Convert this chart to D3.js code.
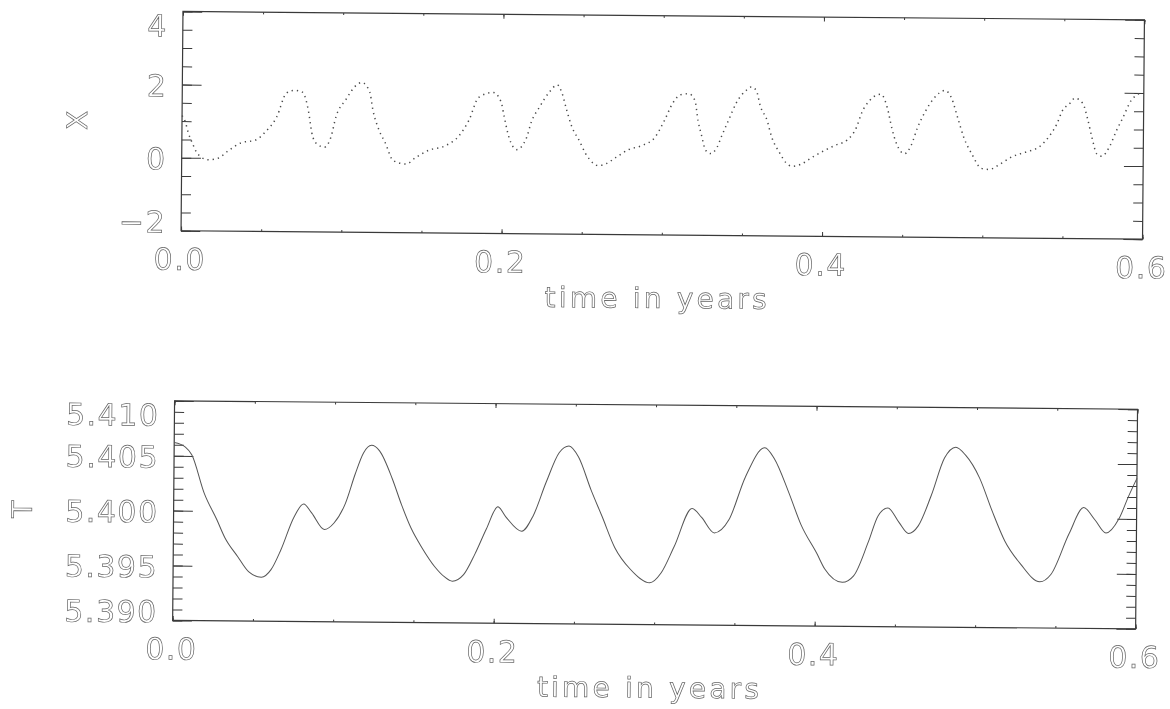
<!DOCTYPE html>
<html>
<head>
<meta charset="utf-8">
<script src="https://cdn.jsdelivr.net/npm/d3@7"></script>
<style>
  html, body { margin: 0; padding: 0; background: #fff; }
  svg { display: block; filter: grayscale(100%); }
</style>
</head>
<body>
<div id="chart"></div>
<script>
// top panel: X vs time (dotted)
const tX = [0.000, 0.002, 0.004, 0.007, 0.009, 0.015, 0.017, 0.023, 0.029, 0.037, 0.046, 0.052, 0.059, 0.065,
  0.070, 0.075, 0.079, 0.081, 0.084, 0.089, 0.093, 0.096, 0.102, 0.109, 0.112, 0.117, 0.119, 0.123, 0.127,
  0.132, 0.140, 0.146, 0.154, 0.165, 0.173, 0.179, 0.185, 0.194, 0.199, 0.201, 0.204, 0.209, 0.215, 0.218,
  0.223, 0.229, 0.234, 0.237, 0.240, 0.243, 0.248, 0.252, 0.257, 0.260, 0.265, 0.271, 0.279, 0.287, 0.295,
  0.301, 0.306, 0.311, 0.316, 0.320, 0.322, 0.324, 0.327, 0.330, 0.334, 0.337, 0.341, 0.346, 0.352, 0.355,
  0.358, 0.361, 0.365, 0.368, 0.373, 0.377, 0.381, 0.386, 0.393, 0.401, 0.408, 0.415, 0.421, 0.424, 0.429,
  0.433, 0.436, 0.440, 0.443, 0.446, 0.451, 0.455, 0.459, 0.464, 0.469, 0.476, 0.480, 0.484, 0.488, 0.493,
  0.499, 0.504, 0.510, 0.518, 0.527, 0.535, 0.541, 0.546, 0.549, 0.554, 0.557, 0.562, 0.565, 0.568, 0.571,
  0.574, 0.579, 0.583, 0.587, 0.592, 0.597]
const X = [1.15, 0.99, 0.68, 0.36, 0.17, -0.04, -0.05, 0.00, 0.20, 0.42, 0.50, 0.72, 1.13, 1.79,
  1.87, 1.82, 1.27, 0.72, 0.42, 0.32, 0.60, 1.15, 1.62, 2.04, 2.10, 1.84, 1.36, 0.80, 0.45,
  -0.03, -0.12, 0.06, 0.26, 0.40, 0.67, 1.09, 1.72, 1.86, 1.60, 1.20, 0.65, 0.30, 0.62, 1.06,
  1.47, 1.88, 2.08, 1.85, 1.39, 0.97, 0.56, 0.21, -0.06, -0.12, -0.06, 0.11, 0.33, 0.44, 0.66,
  1.13, 1.60, 1.84, 1.87, 1.68, 1.13, 0.78, 0.32, 0.24, 0.41, 0.74, 1.15, 1.65, 1.98, 2.07,
  1.99, 1.52, 1.17, 0.71, 0.28, 0.01, -0.09, -0.04, 0.15, 0.35, 0.50, 0.64, 1.00, 1.38, 1.73,
  1.87, 1.90, 1.54, 0.97, 0.55, 0.28, 0.50, 1.00, 1.46, 1.80, 2.02, 1.82, 1.28, 0.73, 0.29,
  -0.10, -0.13, 0.00, 0.22, 0.36, 0.50, 0.78, 1.14, 1.47, 1.70, 1.84, 1.70, 1.29, 0.75, 0.32,
  0.26, 0.53, 0.95, 1.31, 1.78, 1.98]

// bottom panel: T vs time (solid)
const tT = [0.000, 0.007, 0.011, 0.019, 0.027, 0.032, 0.040, 0.047, 0.055, 0.061, 0.067, 0.075, 0.081, 0.086,
  0.094, 0.100, 0.107, 0.113, 0.118, 0.123, 0.128, 0.136, 0.142, 0.148, 0.155, 0.163, 0.169, 0.174, 0.181,
  0.188, 0.195, 0.202, 0.207, 0.217, 0.224, 0.232, 0.240, 0.246, 0.252, 0.260, 0.267, 0.275, 0.285, 0.297,
  0.304, 0.312, 0.323, 0.329, 0.337, 0.346, 0.356, 0.368, 0.374, 0.383, 0.391, 0.401, 0.406, 0.417, 0.424,
  0.433, 0.439, 0.445, 0.452, 0.458, 0.464, 0.472, 0.480, 0.487, 0.493, 0.502, 0.510, 0.518, 0.528, 0.540,
  0.547, 0.558, 0.567, 0.574, 0.581, 0.589, 0.595, 0.600]
const T = [5.4062, 5.4058, 5.4051, 5.4016, 5.3992, 5.3976, 5.3959, 5.3945, 5.3940, 5.3947, 5.3965, 5.3995, 5.4007, 5.3999,
  5.3984, 5.3990, 5.4008, 5.4035, 5.4054, 5.4061, 5.4056, 5.4031, 5.4007, 5.3986, 5.3968, 5.3951, 5.3942, 5.3938, 5.3944,
  5.3963, 5.3986, 5.4006, 5.3997, 5.3984, 5.3998, 5.4029, 5.4056, 5.4062, 5.4052, 5.4022, 5.3998, 5.3970, 5.3950, 5.3938,
  5.3947, 5.3971, 5.4006, 5.3998, 5.3984, 5.3996, 5.4035, 5.4062, 5.4052, 5.4022, 5.3992, 5.3966, 5.3952, 5.3940, 5.3946,
  5.3977, 5.4001, 5.4008, 5.3995, 5.3985, 5.3992, 5.4020, 5.4054, 5.4064, 5.4057, 5.4036, 5.4006, 5.3979, 5.3958, 5.3942,
  5.3949, 5.3986, 5.4010, 5.3999, 5.3987, 5.4000, 5.4021, 5.4037]

const xTicks = [0.0, 0.2, 0.4, 0.6]
const xTickLabels = ['0.0', '0.2', '0.4', '0.6']
const xMinor = d3.range(0, 0.6001, 0.05)
const yTicksX = [-2, 0, 2, 4]
const yTickLabelsX = ['\u22122', '0', '2', '4']
const yMinorX = d3.range(-2, 4.001, 0.5)
const yTicksT = [5.390, 5.395, 5.400, 5.405, 5.410]
const yTickLabelsT = ['5.390', '5.395', '5.400', '5.405', '5.410']
const yMinorT = d3.range(5.390, 5.41001, 0.001)

const width = 1170, height = 709
const ink = '#3a3a3a'
const font = 'DejaVu Sans'

const svg = d3.select('#chart').append('svg')
    .attr('width', width)
    .attr('height', height)
    .style('background', '#fff')

// the scanned page is a little skewed
const page = svg.append('g').attr('transform', 'rotate(0.5,585,354)')

function outlined(sel, size, spacing) {
  return sel.attr('font-family', font)
    .attr('font-size', size)
    .attr('letter-spacing', spacing)
    .attr('fill', '#fff')
    .attr('stroke', '#666')
    .attr('stroke-width', 0.7)
}

function panel(o) {
  const x = d3.scaleLinear().domain([0, 0.6]).range([o.left, o.right])
  const y = d3.scaleLinear().domain(o.yDomain).range([o.bottom, o.top])
  const g = page.append('g')
  const pw = o.right - o.left, ph = o.bottom - o.top
  const yLen = 0.02 * pw, xLen = 0.02 * ph

  // y ticks left / right (inward)
  g.append('g').attr('transform', `translate(${o.left},0)`)
    .call(d3.axisLeft(y).tickValues(o.yMinor).tickSize(-yLen / 2).tickFormat(''))
  g.append('g').attr('transform', `translate(${o.left},0)`)
    .call(d3.axisLeft(y).tickValues(o.yTicks).tickSize(-yLen).tickFormat(''))
  g.append('g').attr('transform', `translate(${o.right},0)`)
    .call(d3.axisRight(y).tickValues(o.yMinor).tickSize(-yLen / 2).tickFormat(''))
  g.append('g').attr('transform', `translate(${o.right},0)`)
    .call(d3.axisRight(y).tickValues(o.yTicks).tickSize(-yLen).tickFormat(''))
  // x ticks bottom / top
  g.append('g').attr('transform', `translate(0,${o.bottom})`)
    .call(d3.axisBottom(x).tickValues(xMinor).tickSize(-xLen / 2).tickFormat(''))
  g.append('g').attr('transform', `translate(0,${o.bottom})`)
    .call(d3.axisBottom(x).tickValues(xTicks).tickSize(-xLen).tickFormat(''))
  g.append('g').attr('transform', `translate(0,${o.top})`)
    .call(d3.axisTop(x).tickValues(xMinor).tickSize(-xLen / 2).tickFormat(''))
  g.append('g').attr('transform', `translate(0,${o.top})`)
    .call(d3.axisTop(x).tickValues(xTicks).tickSize(-xLen).tickFormat(''))
  g.selectAll('.domain').remove()
  g.selectAll('.tick line').attr('stroke', ink).attr('stroke-width', 1)

  // frame
  g.append('rect')
    .attr('x', o.left).attr('y', o.top)
    .attr('width', pw).attr('height', ph)
    .attr('fill', 'none')
    .attr('stroke', ink)
    .attr('stroke-width', 1.2)

  // data
  const line = d3.line()
    .x((d, i) => x(o.t[i]))
    .y(d => y(d))
    .curve(d3.curveMonotoneX)
  g.append('path')
    .datum(o.v)
    .attr('d', line)
    .attr('fill', 'none')
    .attr('stroke', o.dotted ? '#4a4a4a' : '#555')
    .attr('stroke-width', o.dotted ? 1.5 : 1)
    .attr('stroke-dasharray', o.dotted ? '1.3,4' : null)

  // x tick labels
  outlined(g.append('g').selectAll('text')
    .data(xTicks)
    .enter().append('text')
      .attr('x', d => x(d) - 1)
      .attr('y', o.bottom + 39)
      .attr('text-anchor', 'middle')
      .text((d, i) => xTickLabels[i]), 30, 1.5)

  // y tick labels (end ones pulled inside the frame, like the original)
  const n = o.yTicks.length
  outlined(g.append('g').selectAll('text')
    .data(o.yTicks)
    .enter().append('text')
      .attr('x', o.left - 15)
      .attr('y', (d, i) => y(d) + 11 + (i === 0 ? -9 : i === n - 1 ? 14 : 1))
      .attr('text-anchor', 'end')
      .text((d, i) => o.yLabels[i]), 30, 1.5)

  // titles
  outlined(g.append('text')
    .attr('x', (o.left + o.right) / 2 - 4)
    .attr('y', o.bottom + 73)
    .attr('text-anchor', 'middle')
    .text('time in years'), 28, 3.2)

  outlined(g.append('text')
    .attr('transform', `translate(${o.titleX},${(o.top + o.bottom) / 2}) rotate(-90)`)
    .attr('dy', '0.36em')
    .attr('text-anchor', 'middle')
    .text(o.yTitle), 28, 0)
}

panel({
  left: 180, right: 1141.5, top: 15, bottom: 234.3,
  yDomain: [-2, 4], yTicks: yTicksX, yLabels: yTickLabelsX, yMinor: yMinorX,
  t: tX, v: X, dotted: true, yTitle: 'X', titleX: 75
})

panel({
  left: 175, right: 1138, top: 404.4, bottom: 624,
  yDomain: [5.390, 5.410], yTicks: yTicksT, yLabels: yTickLabelsT, yMinor: yMinorT,
  t: tT, v: T, dotted: false, yTitle: 'T', titleX: 23
})
</script>
</body>
</html>
